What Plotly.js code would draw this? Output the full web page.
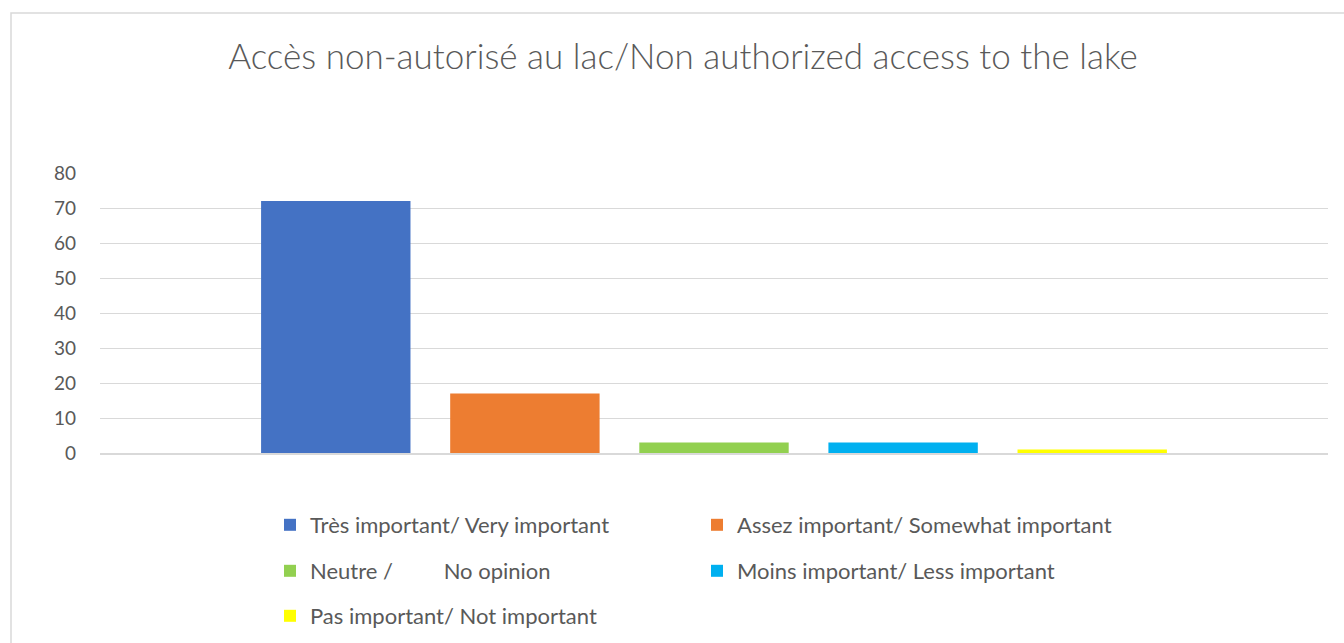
<!DOCTYPE html>
<html><head><meta charset="utf-8">
<script src="https://cdn.plot.ly/plotly-3.0.1.min.js"></script>
<style>body{margin:0;background:#fff}#c{width:1344px;height:643px}</style>
</head><body><div id="c"></div>
<script>
const category = [''];
const seriesNames = [
  'Très important/ Very important',
  'Assez important/ Somewhat important',
  'Neutre /\u00a0\u00a0\u00a0\u00a0\u00a0\u00a0\u00a0\u00a0 No opinion',
  'Moins important/ Less important',
  'Pas important/ Not important'
];
const seriesValues = [72, 17, 3, 3, 1];
const colors = ['#4472C4', '#ED7D31', '#92D050', '#00B0F0', '#FFFF00'];
const legendIds = ['legend', 'legend', 'legend2', 'legend2', 'legend3'];
const yTicks = [0, 10, 20, 30, 40, 50, 60, 70, 80];

const FONT = 'Lato, "Open Sans", sans-serif';
const traces = seriesNames.map((n, i) => ({
  type: 'bar', name: n, x: category, y: [seriesValues[i]],
  marker: {color: colors[i]}, legend: legendIds[i], hoverinfo: 'none'
}));

const L = 100, R = 16, T = 173, B = 190;
const pw = 1344 - L - R, ph = 643 - T - B;
const px = v => (v - L) / pw;
const py = v => (643 - B - v) / ph;
const legBase = {orientation: 'h', xanchor: 'left', yanchor: 'middle', entrywidth: 382, entrywidthmode: 'pixels',
  font: {family: FONT, size: 22, color: '#595959'}, bgcolor: 'rgba(0,0,0,0)', itemwidth: 30, traceorder: 'normal'};

const bx0 = px(11), bx1 = px(1420), by0 = py(720), by1 = py(13);
const layout = {
  width: 1344, height: 643,
  margin: {l: L, r: R, t: T, b: B, autoexpand: false},
  paper_bgcolor: '#fff', plot_bgcolor: '#fff',
  font: {family: FONT, color: '#595959'},
  title: {text: 'Accès non-autorisé au lac/Non authorized access to the lake',
    font: {family: FONT, size: 35, color: '#595959', weight: 300}, x: 683/1344, xanchor: 'center', y: 1 - 57/643, yanchor: 'middle'},
  barmode: 'group', bargap: 0.23, bargroupgap: 0.21,
  xaxis: {showticklabels: false, showgrid: false, zeroline: false, showline: true, linecolor: '#d9d9d9', linewidth: 2, ticks: ''},
  yaxis: {range: [0, 80], tickvals: yTicks, showgrid: true, gridcolor: '#d9d9d9', gridwidth: 1, zeroline: false,
    showline: false, ticks: '', ticklabelstandoff: 23,
    tickfont: {family: FONT, size: 19, color: '#595959'}},
  showlegend: true,
  legend: Object.assign({}, legBase, {x: px(270), y: py(525)}),
  legend2: Object.assign({}, legBase, {x: px(270), y: py(571)}),
  legend3: Object.assign({}, legBase, {x: px(270), y: py(616)}),
  shapes: [{type: 'path', xref: 'paper', yref: 'paper',
    path: `M ${bx0} ${by0} L ${bx0} ${by1} L ${bx1} ${by1}`,
    line: {color: '#d9d9d9', width: 1.5}, layer: 'below'}]
};
Plotly.newPlot('c', traces, layout, {displayModeBar: false, staticPlot: true});
</script></body></html>
